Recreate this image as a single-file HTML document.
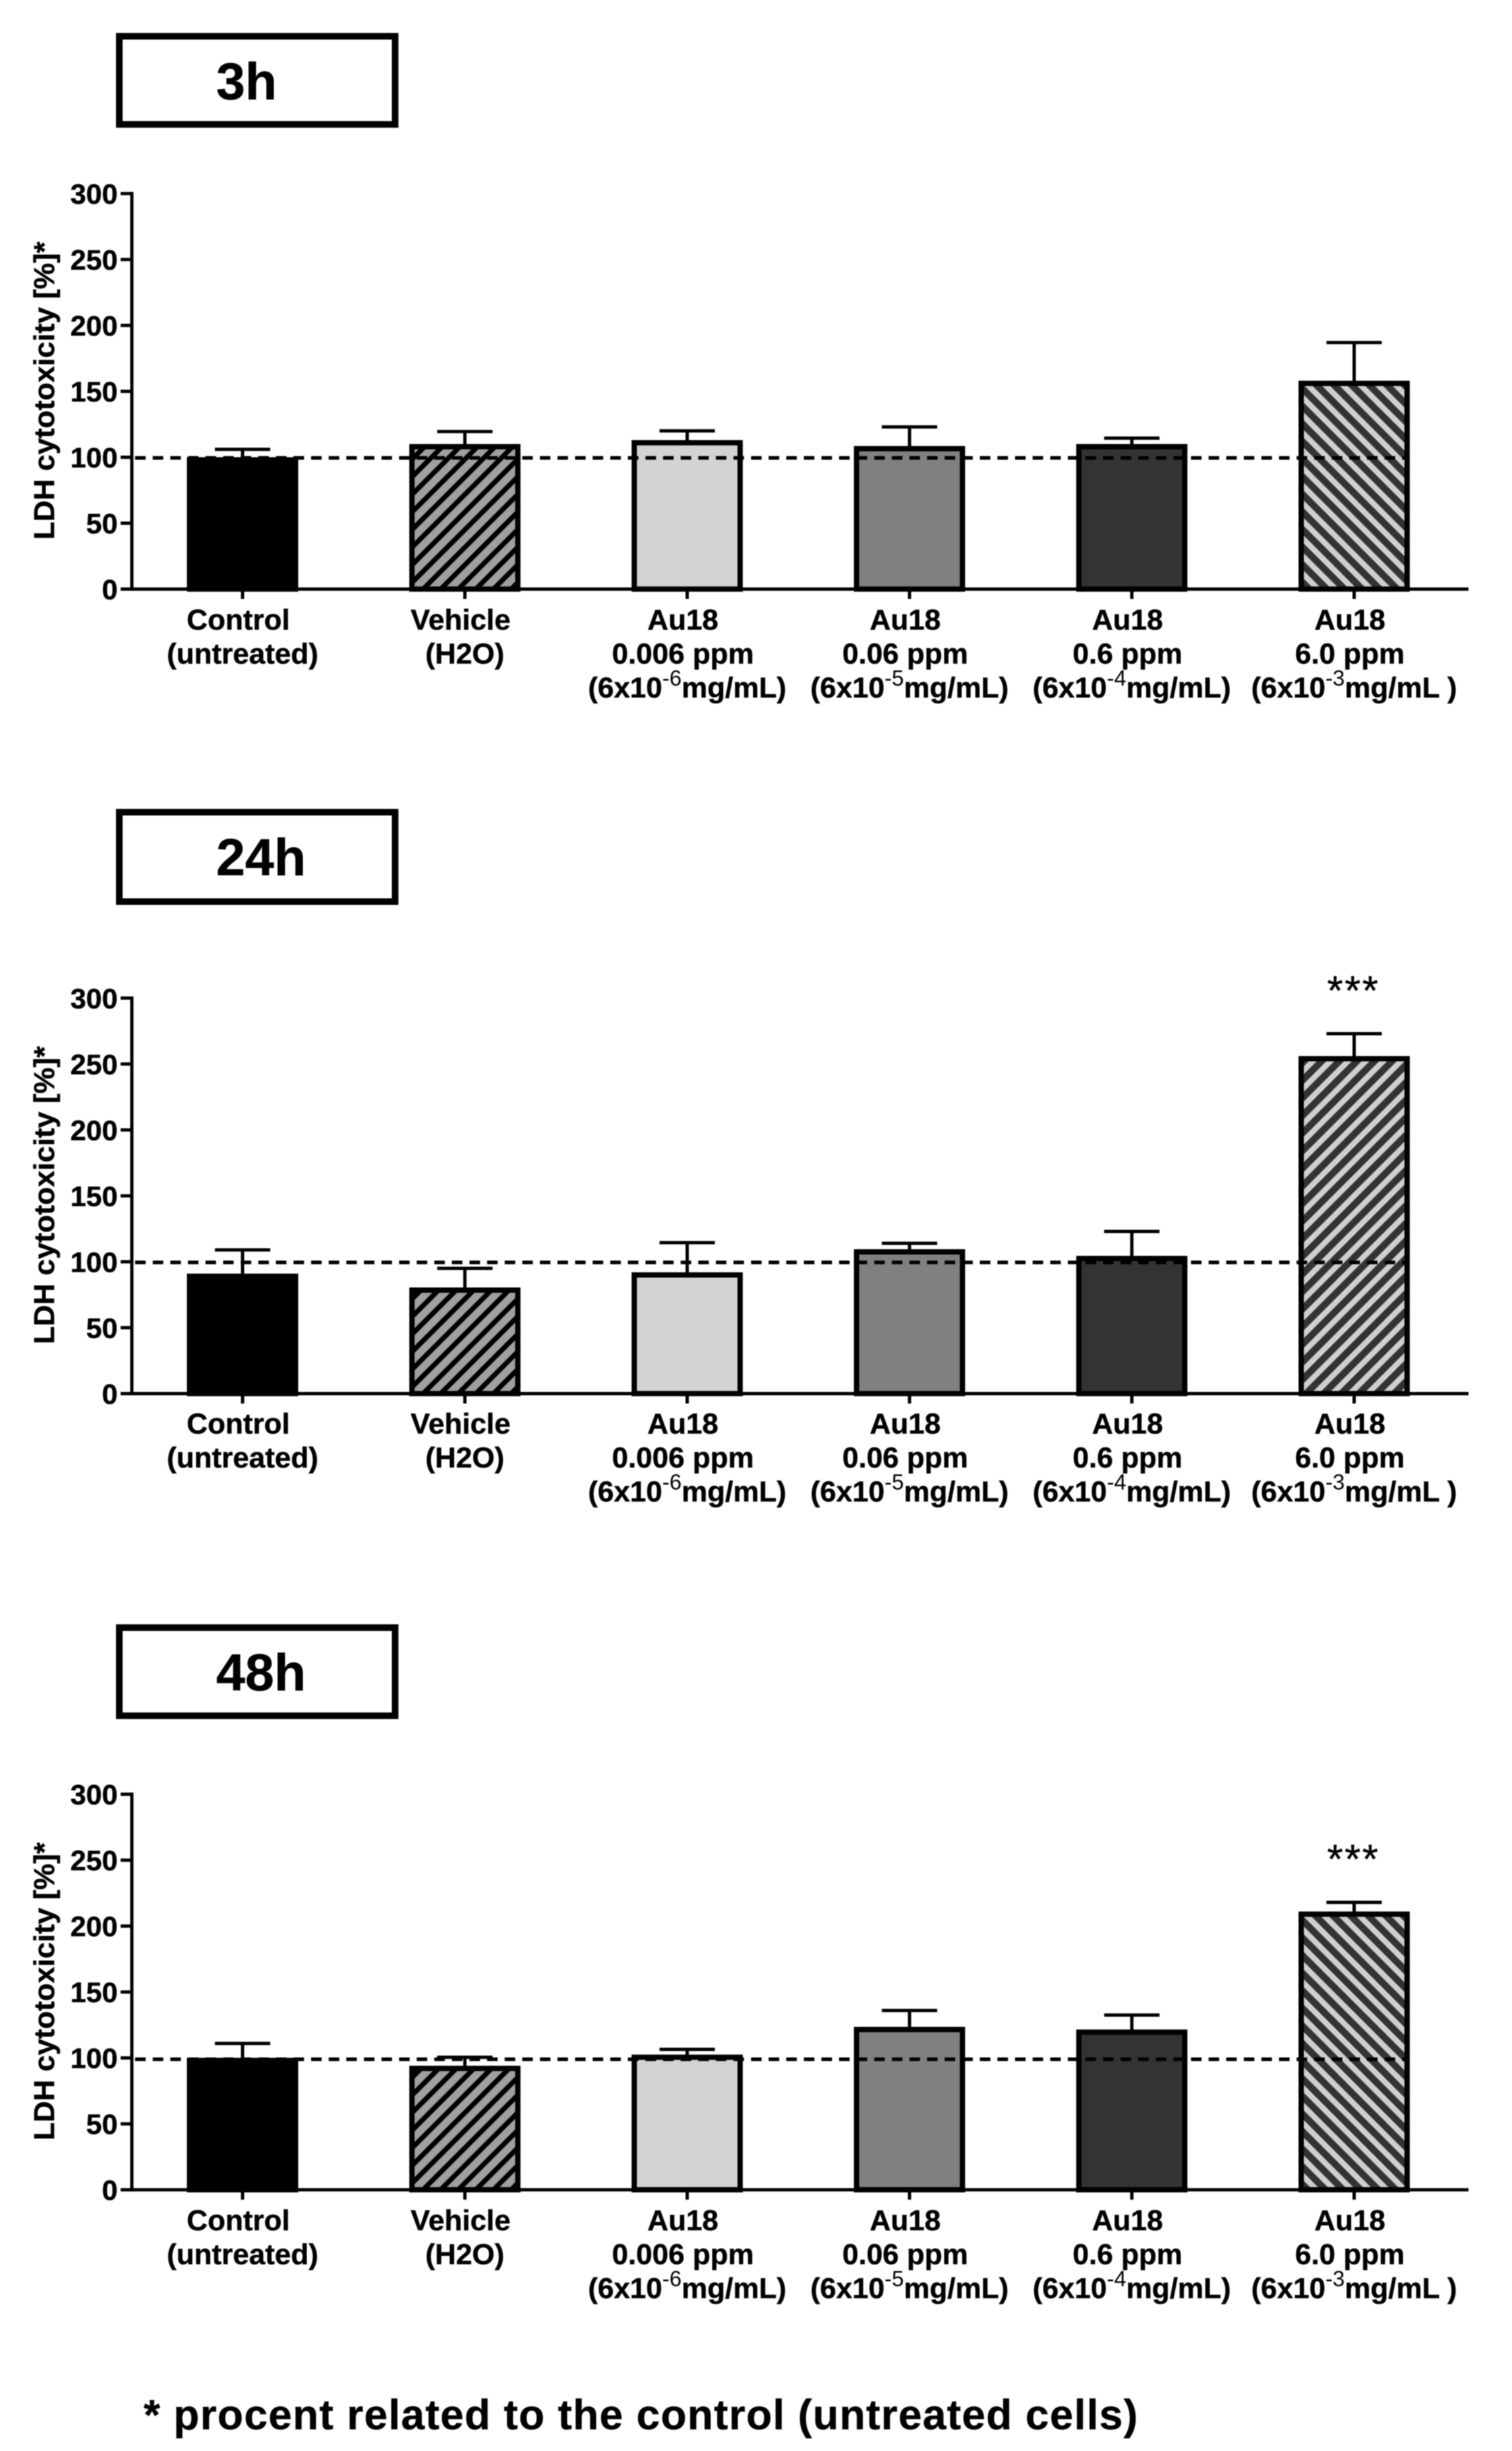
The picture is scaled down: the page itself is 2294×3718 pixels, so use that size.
<!DOCTYPE html>
<html lang="en">
<head>
<meta charset="utf-8">
<title>LDH cytotoxicity of Au18 at 3h, 24h and 48h</title>
<style>
  html, body { margin: 0; padding: 0; background: #fff; }
  body { width: 2294px; height: 3718px; overflow: hidden; }
  svg { display: block; filter: blur(0.7px); }
  text { font-family: "Liberation Sans", Arial, sans-serif; font-weight: 700; fill: #000; stroke: #000; stroke-width: 0.5px; }
</style>
</head>
<body>
<svg id="figure" xmlns="http://www.w3.org/2000/svg" width="2294" height="3718" viewBox="0 0 2294 3718">
  <defs id="hatch-defs"></defs>
  <rect x="0" y="0" width="2294" height="3718" fill="#ffffff"></rect>
  <text x="218" y="3685" font-size="64" textLength="1508" lengthAdjust="spacing">* procent related to the control (untreated cells)</text>
</svg>
<script>
// ---- chart data ----
const categories = ['Control', 'Vehicle', 'Au18 0.006 ppm', 'Au18 0.06 ppm', 'Au18 0.6 ppm', 'Au18 6.0 ppm'];
const labelLine1 = ['Control', 'Vehicle', 'Au18', 'Au18', 'Au18', 'Au18'];
const labelLine2 = ['(untreated)', '(H2O)', '0.006 ppm', '0.06 ppm', '0.6 ppm', '6.0 ppm'];
const labelExponent = ['', '', '-6', '-5', '-4', '-3'];
const labelUnit = ['', '', 'mg/mL)', 'mg/mL)', 'mg/mL)', 'mg/mL )'];
const yTicks = [0, 50, 100, 150, 200, 250, 300];
const yAxisTitle = 'LDH cytotoxicity [%]*';
const referenceValue = 100;

const means3h = [100, 110, 113, 108.5, 110, 158];
const errors3h = [6, 9.5, 7, 14.5, 4.5, 29];
const stars3h = ['', '', '', '', '', ''];

const means24h = [91, 80.5, 92, 109.5, 104.5, 256];
const errors24h = [18, 14.5, 22.5, 4.5, 18.5, 17];
const stars24h = ['', '', '', '', '', '***'];

const means48h = [100, 94, 102.5, 123.5, 121.5, 211];
const errors48h = [11, 6.5, 4, 12.5, 11, 7];
const stars48h = ['', '', '', '', '', '***'];

const panelNames = ['3h', '24h', '48h'];
const panelMeans = [means3h, means24h, means48h];
const panelErrors = [errors3h, errors24h, errors48h];
const panelStars = [stars3h, stars24h, stars48h];

// ---- layout (separate from data) ----
const layoutAxisBottom = [893.6, 2114, 3321.7];
const layoutBoxTop = [50, 1227, 2464];
const layoutBoxBottom = [193.7, 1372.7, 2607.7];
const layoutTitleBaseline = [150.4, 1327.7, 2564];
const layoutHatchDir = [-1, 1, -1];
const layoutHatchPhase = [2.9, -2, 0.8];
const layoutRefOffset = [1, 1, 2];
const layoutLabelShift = [0, -1, 0];
const pxPerUnit = 2;
const axisLeft = 200;
const axisRight = 2228;
const firstCenter = 368;
const centerStep = 337.3;
const barWidth = 168.6;
const barStroke = 8;
const hatchPitch = 26.7;

const SVG_NS = 'http://www.w3.org/2000/svg';
const svg = document.getElementById('figure');
const defs = document.getElementById('hatch-defs');

function xScale(i) { return firstCenter + centerStep * i; }
function yScale(v, p) { return layoutAxisBottom[p] - v * pxPerUnit; }

function make(tag, attrs, parent) {
  const node = document.createElementNS(SVG_NS, tag);
  for (const k in attrs) node.setAttribute(k, attrs[k]);
  (parent || svg).appendChild(node);
  return node;
}

// diagonal stripes clipped to the inside of a bar; dir 1 = "/", dir -1 = "\"
function drawStripes(id, dir, anchorX, left, right, yTop, yBottom, color, width) {
  const clip = make('clipPath', { id: id }, defs);
  make('rect', { x: left, y: yTop, width: right - left, height: yBottom - yTop }, clip);
  const group = make('g', { 'clip-path': 'url(#' + id + ')', stroke: color, 'stroke-width': width, fill: 'none' });
  const h = yBottom - yTop;
  const kMin = Math.floor((left - h - width - anchorX) / hatchPitch);
  const kMax = Math.ceil((right + h + width - anchorX) / hatchPitch);
  for (let k = kMin; k <= kMax; k++) {
    // stripe crosses the bottom edge at xb and runs up to the top edge
    const xb = anchorX + k * hatchPitch;
    make('line', { x1: xb, y1: yBottom, x2: xb + dir * h, y2: yTop }, group);
  }
  return group;
}

const barFills = ['#000000', '#a0a0a2', '#d3d3d3', '#808080', '#333333', '#333333'];

panelNames.forEach(function (panelName, p) {
  const bottom = layoutAxisBottom[p];
  const top = yScale(300, p);
  const means = panelMeans[p];
  const errors = panelErrors[p];
  const stars = panelStars[p];
  const labelBase = bottom + layoutLabelShift[p];

  // title box
  const box = make('rect', {
    x: 181, y: layoutBoxTop[p] + 5, width: 418.5,
    height: layoutBoxBottom[p] - layoutBoxTop[p] - 10,
    fill: '#ffffff', stroke: '#000000', 'stroke-width': 10
  });
  
  

  const title = make('text', { x: 328, y: layoutTitleBaseline[p], 'font-size': 79 });
  title.textContent = panelName;
  
  

  // bars
  means.forEach(function (mean, i) {
    const left = xScale(i) - barWidth / 2;
    const right = left + barWidth;
    const yTop = yScale(mean, p);
    const bar = make('rect', {
      x: left, y: yTop, width: barWidth, height: Math.max(0, bottom - yTop),
      fill: barFills[i]
    });
    
    

    if (i === 1) {
      const stripesA = drawStripes('clip-vehicle-' + p, 1, left - 5.8, left, right, yTop, bottom, '#000000', 7.5);
      
      
    }
    if (i === 5) {
      const stripesB = drawStripes('clip-top-dose-' + p, layoutHatchDir[p], left + layoutHatchPhase[p], left, right, yTop, bottom, '#cfcfcf', 8.5);
      
      
    }

    const outline = make('rect', {
      x: left + barStroke / 2, y: yTop + barStroke / 2,
      width: barWidth - barStroke, height: Math.max(0, bottom - yTop - barStroke / 2),
      fill: 'none', stroke: '#000000', 'stroke-width': barStroke
    });
    
    

    const errTop = yScale(mean + errors[i], p);
    const stem = make('line', { x1: xScale(i), x2: xScale(i), y1: yTop + 1, y2: errTop, stroke: '#000', 'stroke-width': 5 });
    
    

    const cap = make('line', { x1: xScale(i) - 42, x2: xScale(i) + 42, y1: errTop, y2: errTop, stroke: '#000', 'stroke-width': 5 });
    
    

    if (stars[i]) {
      const star = make('text', {
        x: xScale(i) - 1, y: errTop - 74 + 30, 'font-size': 62,
        'text-anchor': 'middle', 'letter-spacing': 2.5
      });
      star.setAttribute('style', 'font-weight:400');
      star.textContent = stars[i];
      
      
    }
  });

  // reference line
  const ref = make('line', {
    x1: axisLeft + 5, x2: xScale(5) + barWidth / 2 - barStroke,
    y1: yScale(referenceValue, p) + layoutRefOffset[p], y2: yScale(referenceValue, p) + layoutRefOffset[p],
    stroke: '#000', 'stroke-width': 5.5, 'stroke-dasharray': '16 10.7'
  });
  
  

  // axes
  const yAxis = make('line', { x1: axisLeft, x2: axisLeft, y1: top - 2.5, y2: bottom + 2.5, stroke: '#000', 'stroke-width': 5 });
  
  

  const xAxis = make('line', { x1: axisLeft, x2: axisRight, y1: bottom, y2: bottom, stroke: '#000', 'stroke-width': 5 });
  
  

  yTicks.forEach(function (t) {
    const y = yScale(t, p);
    const tick = make('line', { x1: 183, x2: axisLeft, y1: y, y2: y, stroke: '#000', 'stroke-width': 5 });
    
    
    const lab = make('text', { x: 178.5, y: y + 15.5, 'font-size': 43, 'text-anchor': 'end' });
    lab.textContent = String(t);
    
    
  });

  const titleY = (bottom - 78) - 223;
  const yTitle = make('text', {
    x: 0, y: 0, 'font-size': 44, 'text-anchor': 'middle',
    textLength: 452, lengthAdjust: 'spacingAndGlyphs',
    transform: 'translate(82 ' + titleY + ') rotate(-90)'
  });
  yTitle.textContent = yAxisTitle;
  
  

  categories.forEach(function (cat, i) {
    const cx = xScale(i);
    const tick = make('line', { x1: cx, x2: cx, y1: bottom, y2: bottom + 15, stroke: '#000', 'stroke-width': 5 });
    
    

    const first = make('text', { x: cx - 6.5, y: labelBase + 61.5, 'font-size': 44, 'text-anchor': 'middle' });
    first.textContent = labelLine1[i];
    
    

    const second = make('text', { x: labelExponent[i] ? cx - 6.5 : cx, y: labelBase + 113, 'font-size': 44, 'text-anchor': 'middle' });
    second.textContent = labelLine2[i];
    
    

    if (labelExponent[i]) {
      const third = make('text', { x: cx, y: labelBase + 164.5, 'font-size': 44, 'text-anchor': 'middle' });
      
      
      make('tspan', {}, third).textContent = '(6x10';
      const sup = make('tspan', { dy: -18, 'font-size': 33, style: 'font-weight:400;stroke-width:0' }, third);
      sup.textContent = labelExponent[i];
      make('tspan', { dy: 18 }, third).textContent = labelUnit[i];
    }
  });
});
</script>
</body>
</html>
